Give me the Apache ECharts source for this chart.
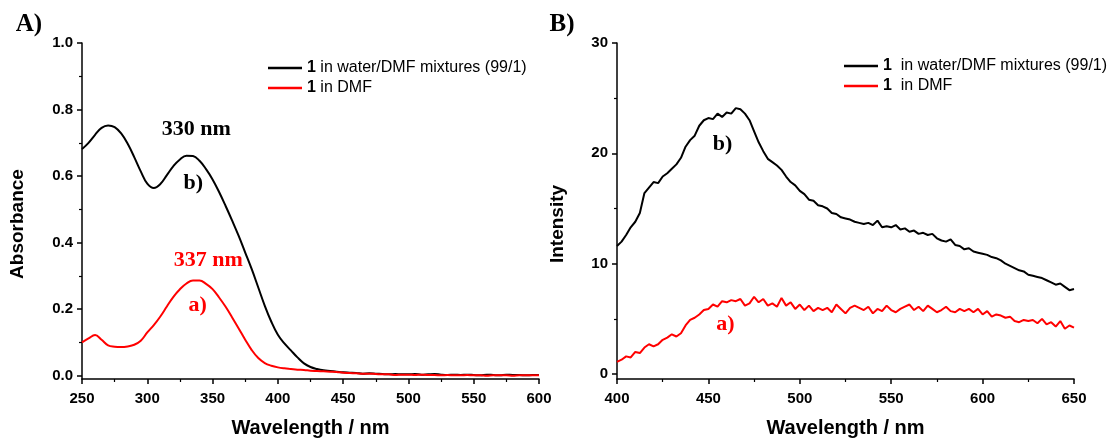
<!DOCTYPE html>
<html>
<head>
<meta charset="utf-8">
<script src="https://cdn.jsdelivr.net/npm/echarts@6/dist/echarts.min.js"></script>
<style>
html,body{margin:0;padding:0;background:#fff;}
#chart{width:1112px;height:441px;}
</style>
</head>
<body>
<div id="chart"></div>
<script>
// ---- Panel A: absorbance ----
const wlA = [250,255,260,265,270,275,280,285,290,295,300,305,310,315,320,325,330,335,340,345,350,355,360,365,370,375,380,385,390,395,400,405,410,415,420,425,430,435,440,445,450,455,460,465,470,475,480,485,490,495,500,505,510,515,520,525,530,535,540,545,550,555,560,565,570,575,580,585,590,595,600];
const absWater = [0.681,0.700,0.724,0.745,0.752,0.747,0.728,0.697,0.657,0.614,
  0.577,0.564,0.576,0.603,0.630,0.650,0.661,0.660,0.646,0.621,
  0.590,0.552,0.510,0.466,0.420,0.370,0.320,0.265,0.210,0.162,
  0.123,0.097,0.076,0.055,0.037,0.026,0.020,0.016,0.014,0.012,
  0.010,0.009,0.008,0.006,0.007,0.006,0.005,0.004,0.005,0.004,
  0.004,0.005,0.003,0.004,0.005,0.003,0.002,0.003,0.002,0.003,
  0.002,0.001,0.003,0.002,0.001,0.003,0.002,0.002,0.001,0.002,0.002];
const absDMF = [0.100,0.112,0.122,0.108,0.091,0.087,0.086,0.088,0.093,0.105,
  0.130,0.152,0.178,0.208,0.237,0.260,0.277,0.286,0.286,0.276,
  0.260,0.235,0.207,0.175,0.142,0.108,0.077,0.053,0.038,0.030,
  0.025,0.022,0.020,0.018,0.017,0.015,0.014,0.013,0.012,0.011,
  0.009,0.008,0.007,0.006,0.006,0.005,0.004,0.004,0.002,0.003,
  0.003,0.002,0.003,0.002,0.002,0.001,0.002,0.001,0.001,0.002,
  0.001,0.001,0.000,0.001,0.001,0.001,0.000,0.001,0.001,0.001,0.001];
const yLabelsA = [0, 0.2, 0.4, 0.6, 0.8, 1.0];
const yMinorA = [0.1, 0.3, 0.5, 0.7, 0.9];

// ---- Panel B: emission intensity ----
const wlB = [400,402.5,405,407.5,410,412.5,415,417.5,420,422.5,
  425,427.5,430,432.5,435,437.5,440,442.5,445,447.5,
  450,452.5,455,457.5,460,462.5,465,467.5,470,472.5,
  475,477.5,480,482.5,485,487.5,490,492.5,495,497.5,
  500,502.5,505,507.5,510,512.5,515,517.5,520,522.5,
  525,527.5,530,532.5,535,537.5,540,542.5,545,547.5,
  550,552.5,555,557.5,560,562.5,565,567.5,570,572.5,
  575,577.5,580,582.5,585,587.5,590,592.5,595,597.5,
  600,602.5,605,607.5,610,612.5,615,617.5,620,622.5,
  625,627.5,630,632.5,635,637.5,640,642.5,645,647.5,650];
const intWater = [11.6,12.0,12.6,13.3,13.8,14.6,16.4,16.9,17.4,17.3,
  17.9,18.2,18.6,19.0,19.6,20.6,21.2,21.6,22.5,23.0,
  23.2,23.1,23.6,23.3,23.7,23.6,24.1,24.0,23.6,23.0,
  22.0,21.0,20.2,19.5,19.2,18.9,18.5,17.9,17.4,17.1,
  16.6,16.3,15.8,15.7,15.3,15.2,15.0,14.6,14.5,14.2,
  14.1,14.0,13.8,13.7,13.6,13.7,13.5,13.9,13.3,13.4,
  13.3,13.5,13.1,13.2,12.9,13.0,12.7,12.8,12.6,12.7,
  12.3,12.1,12.0,12.2,11.7,11.6,11.3,11.4,11.1,11.0,
  10.9,10.8,10.6,10.5,10.3,10.0,9.8,9.6,9.4,9.3,
  9.0,8.9,8.8,8.7,8.5,8.3,8.1,8.2,7.9,7.6,7.7];
const intDMF = [1.1,1.3,1.6,1.5,2.0,1.9,2.4,2.7,2.5,2.7,
  3.1,3.3,3.6,3.4,3.7,4.4,4.9,5.1,5.4,5.8,
  5.9,6.3,6.1,6.6,6.5,6.7,6.6,6.8,6.2,6.4,
  7.0,6.5,6.8,6.2,6.4,6.1,6.9,6.2,6.5,5.9,
  6.3,5.8,6.2,5.7,6.0,5.8,6.0,5.6,6.3,5.9,
  5.5,6.0,6.2,6.0,5.8,6.1,5.5,5.9,5.7,6.2,
  5.8,5.6,5.9,6.1,6.3,5.8,6.1,5.7,6.2,5.9,
  5.6,5.8,6.1,5.7,5.6,5.9,5.7,5.9,5.6,5.9,
  5.4,5.7,5.2,5.4,5.3,5.1,5.2,4.8,4.7,4.9,
  4.8,4.9,4.6,5.0,4.5,4.7,4.3,4.8,4.1,4.4,4.2];
const yLabelsB = [0, 10, 20, 30];
const yMinorB = [5, 15, 25];

const legendText = {
  wA: '{b|1} in water/DMF mixtures (99/1)',
  dA: '{b|1} in DMF',
  wB: '{b|1}  in water/DMF mixtures (99/1)',
  dB: '{b|1}  in DMF'
};

const pairs = (xs, ys) => xs.map((x, i) => [x, ys[i]]);

const SANS = 'Liberation Sans';
const SERIF = 'Liberation Serif';
const axisLineStyle = { color: '#000', width: 1.5 };
const tickLabel = { color: '#000', fontSize: 15, fontWeight: 'bold', fontFamily: SANS };

function xAxisCfg(grid, min, max) {
  return {
    type: 'value', gridIndex: grid, min: min, max: max, interval: 50,
    axisLine: { show: true, onZero: false, lineStyle: axisLineStyle },
    axisTick: { show: true, length: 5, lineStyle: { color: '#000', width: 1.5 } },
    minorTick: { show: true, splitNumber: 2, length: 3, lineStyle: { color: '#000', width: 1.2 } },
    splitLine: { show: false },
    axisLabel: Object.assign({ margin: 12 }, tickLabel),
    name: 'Wavelength / nm', nameLocation: 'middle', nameGap: 39,
    nameTextStyle: { color: '#000', fontSize: 20, fontWeight: 'bold', fontFamily: SANS }
  };
}
function yAxisMain(grid, min, max, labels, fmt, name, gap) {
  return {
    type: 'value', gridIndex: grid, min: min, max: max, position: 'left',
    axisLine: { show: true, onZero: false, lineStyle: axisLineStyle },
    axisTick: { show: true, length: 5, customValues: labels, lineStyle: { color: '#000', width: 1.5 } },
    splitLine: { show: false },
    axisLabel: Object.assign({ margin: 9, customValues: labels, formatter: fmt }, tickLabel),
    name: name, nameLocation: 'middle', nameGap: gap,
    nameTextStyle: { color: '#000', fontSize: 19, fontWeight: 'bold', fontFamily: SANS, padding: [0, 26, 0, 0] }
  };
}
function yAxisMinor(grid, min, max, vals) {
  return {
    type: 'value', gridIndex: grid, min: min, max: max, position: 'left', offset: 0,
    axisLine: { show: false, onZero: false },
    axisTick: { show: true, length: 3, customValues: vals, lineStyle: { color: '#000', width: 1.2 } },
    axisLabel: { show: false, customValues: vals },
    splitLine: { show: false }
  };
}
function annot(x, y, text, color) {
  return {
    coord: [x, y], value: text, symbol: 'circle', symbolSize: 1,
    itemStyle: { color: 'rgba(0,0,0,0)' },
    label: { show: true, position: 'inside', formatter: text, color: color,
      fontFamily: SERIF, fontWeight: 'bold', fontSize: 22 }
  };
}
function legendCfg(names, left, top) {
  return {
    data: names, orient: 'vertical', left: left, top: top,
    icon: 'rect', itemWidth: 34, itemHeight: 2.5, itemGap: 4,
    formatter: n => legendText[n],
    textStyle: { color: '#000', fontSize: 16, fontFamily: SANS, lineHeight: 16,
      rich: { b: { fontWeight: 'bold', fontSize: 16, fontFamily: SANS, color: '#000' } } }
  };
}

const chart = echarts.init(document.getElementById('chart'), null, { renderer: 'canvas' });
chart.setOption({
  animation: false,
  backgroundColor: '#fff',
  grid: [
    { left: 82, right: 573, top: 43, bottom: 62, outerBoundsMode: 'none', containLabel: false },
    { left: 617, right: 38, top: 43, bottom: 62, outerBoundsMode: 'none', containLabel: false }
  ],
  xAxis: [ xAxisCfg(0, 250, 600), xAxisCfg(1, 400, 650) ],
  yAxis: [
    yAxisMain(0, -0.01, 1.0, yLabelsA, v => v.toFixed(1), 'Absorbance', 55),
    yAxisMinor(0, -0.01, 1.0, yMinorA),
    yAxisMain(1, -0.45, 30, yLabelsB, v => String(Math.round(v)), 'Intensity', 50),
    yAxisMinor(1, -0.45, 30, yMinorB)
  ],
  legend: [ legendCfg(['wA', 'dA'], 263, 55), legendCfg(['wB', 'dB'], 839, 53) ],
  graphic: [
    { type: 'text', x: 29, y: 25, style: { text: 'A)', font: 'bold 25px "Liberation Serif"', fill: '#000', align: 'center', verticalAlign: 'middle' } },
    { type: 'text', x: 562, y: 25, style: { text: 'B)', font: 'bold 25px "Liberation Serif"', fill: '#000', align: 'center', verticalAlign: 'middle' } }
  ],
  series: [
    {
      name: 'wA', type: 'line', xAxisIndex: 0, yAxisIndex: 0, data: pairs(wlA, absWater),
      symbol: 'none', smooth: 0.4, color: '#000', lineStyle: { color: '#000', width: 2 },
      markPoint: { data: [ annot(337.6, 0.742, '330 nm', '#000'), annot(335.2, 0.577, 'b)', '#000') ] }
    },
    {
      name: 'dA', type: 'line', xAxisIndex: 0, yAxisIndex: 0, data: pairs(wlA, absDMF),
      symbol: 'none', smooth: 0.4, color: '#ff0000', lineStyle: { color: '#ff0000', width: 2 },
      markPoint: { data: [ annot(346.7, 0.347, '337 nm', '#ff0000'), annot(338.5, 0.213, 'a)', '#ff0000') ] }
    },
    {
      name: 'wB', type: 'line', xAxisIndex: 1, yAxisIndex: 2, data: pairs(wlB, intWater),
      symbol: 'none', color: '#000', lineStyle: { color: '#000', width: 2 },
      markPoint: { data: [ annot(457.7, 20.8, 'b)', '#000') ] }
    },
    {
      name: 'dB', type: 'line', xAxisIndex: 1, yAxisIndex: 2, data: pairs(wlB, intDMF),
      symbol: 'none', color: '#ff0000', lineStyle: { color: '#ff0000', width: 2 },
      markPoint: { data: [ annot(459.3, 4.5, 'a)', '#ff0000') ] }
    }
  ]
});
</script>
</body>
</html>
